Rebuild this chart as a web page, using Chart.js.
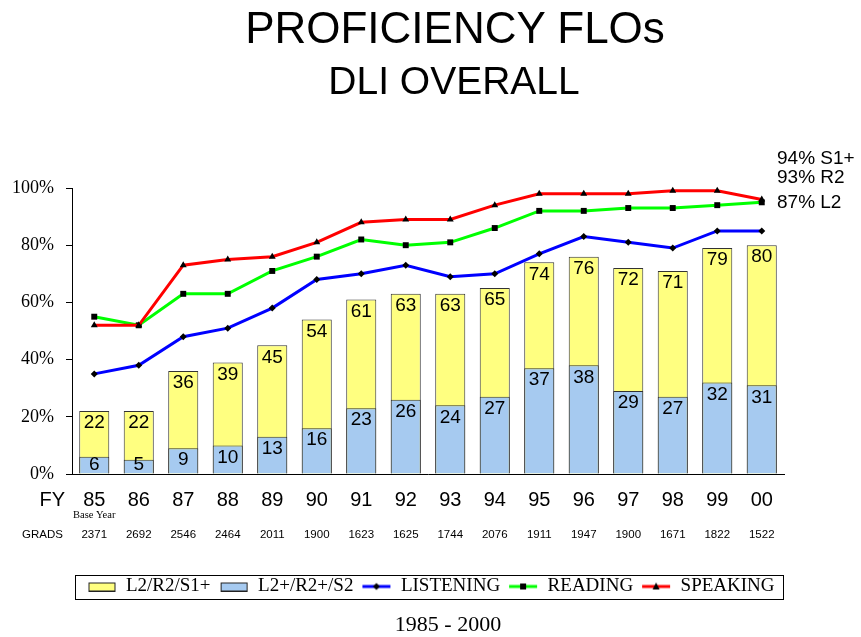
<!DOCTYPE html>
<html>
<head>
<meta charset="utf-8">
<title>Proficiency FLOs - DLI Overall</title>
<script src="https://cdn.jsdelivr.net/npm/chart.js@4.4.1/dist/chart.umd.min.js"></script>
<style>
  body { margin: 0; background: #fff; }
  #wrap { position: relative; width: 861px; height: 637px; }
  .txt { position: absolute; white-space: nowrap; line-height: 1; color: #000; font-family: Arial, "Liberation Sans", sans-serif; }
  .center { transform: translateX(-50%); }
</style>
</head>
<body>
<div id="wrap">
  <canvas id="floChart" width="861" height="637"></canvas>
  <div class="txt center" style="left:455px; top:6px; font-size:44px;">PROFICIENCY FLOs</div>
  <div class="txt center" style="left:454px; top:61px; font-size:39px;">DLI OVERALL</div>
  <div class="txt" style="left:777px; top:148px; font-size:19px;">94% S1+</div>
  <div class="txt" style="left:777px; top:167px; font-size:19px;">93% R2</div>
  <div class="txt" style="left:777px; top:192px; font-size:19px;">87% L2</div>
  <div class="txt center" style="left:448px; top:613px; font-size:22px; font-family: 'Times New Roman', 'Liberation Serif', serif;">1985 - 2000</div>
</div>
<script>
// fiscal years and graduates per year
const years = ["85", "86", "87", "88", "89", "90", "91", "92", "93", "94", "95", "96", "97", "98", "99", "00"];
const grads = [2371, 2692, 2546, 2464, 2011, 1900, 1623, 1625, 1744, 2076, 1911, 1947, 1900, 1671, 1822, 1522];

// % of grads reaching each level
const level1 = [22, 22, 36, 39, 45, 54, 61, 63, 63, 65, 74, 76, 72, 71, 79, 80]; // L2/R2/S1+
const level2 = [6, 5, 9, 10, 13, 16, 23, 26, 24, 27, 37, 38, 29, 27, 32, 31];     // L2+/R2+/S2

// % per skill
const listening = [35, 38, 48, 51, 58, 68, 70, 73, 69, 70, 77, 83, 81, 79, 85, 85];
const reading = [55, 52, 63, 63, 71, 76, 82, 80, 81, 86, 92, 92, 93, 93, 94, 95];
const speaking = [52, 52, 73, 75, 76, 81, 88, 89, 89, 94, 98, 98, 98, 99, 99, 96];

const yTicks = [0, 20, 40, 60, 80, 100];

const serif = "'Times New Roman', 'Liberation Serif', serif";
const sans = "Arial, 'Liberation Sans', sans-serif";

// little canvases used as legend symbols
function boxIcon(fill) {
  const c = document.createElement("canvas");
  c.width = 30; c.height = 10;
  const g = c.getContext("2d");
  g.fillStyle = fill;
  g.fillRect(2.5, 1.5, 26, 8);
  g.strokeStyle = "#222";
  g.lineWidth = 1;
  g.strokeRect(2.5, 1.5, 26, 8);
  return c;
}

function lineIcon(color, marker) {
  const c = document.createElement("canvas");
  c.width = 30; c.height = 10;
  const g = c.getContext("2d");
  g.strokeStyle = color;
  g.lineWidth = 3;
  g.beginPath(); g.moveTo(1, 5); g.lineTo(29, 5); g.stroke();
  g.fillStyle = "#000";
  g.beginPath();
  if (marker === "diamond") {
    g.moveTo(15, 1.5); g.lineTo(18.5, 5); g.lineTo(15, 8.5); g.lineTo(11.5, 5);
  } else if (marker === "square") {
    g.rect(12, 2, 6, 6);
  } else {
    g.moveTo(15, 1); g.lineTo(18.5, 8); g.lineTo(11.5, 8);
  }
  g.closePath(); g.fill();
  return c;
}

const legendIcons = [
  boxIcon("#FFFF80"),
  boxIcon("#A6CAF0"),
  lineIcon("#0000FF", "diamond"),
  lineIcon("#00FF00", "square"),
  lineIcon("#FF0000", "triangle"),
];

// numbers written inside the top of each bar
const barLabels = {
  id: "barLabels",
  afterDatasetsDraw(chart) {
    const ctx = chart.ctx;
    ctx.save();
    ctx.font = "19px " + sans;
    ctx.fillStyle = "#000";
    ctx.textAlign = "center";
    ctx.textBaseline = "middle";
    [0, 1].forEach((di) => {
      const meta = chart.getDatasetMeta(di);
      const vals = chart.data.datasets[di].data;
      meta.data.forEach((bar, i) => {
        const y = Math.min(bar.y + 12, bar.base - 9);
        ctx.fillText(String(vals[i]), bar.x, y);
      });
    });
    ctx.restore();
  },
};

// FY / Base Year / GRADS rows under the axis, and the frame round the legend
const extras = {
  id: "extras",
  afterDraw(chart) {
    const ctx = chart.ctx;
    const x = chart.scales.x;
    ctx.save();
    ctx.fillStyle = "#000";
    ctx.textBaseline = "middle";

    ctx.font = "20px " + sans;
    ctx.textAlign = "right";
    ctx.fillText("FY", 65, 500);

    ctx.font = "10.5px " + serif;
    ctx.textAlign = "center";
    ctx.fillText("Base Year", x.getPixelForValue(0), 515);

    ctx.font = "11.5px " + sans;
    ctx.textAlign = "left";
    ctx.fillText("GRADS", 22, 535);
    ctx.textAlign = "center";
    grads.forEach((g, i) => ctx.fillText(String(g), x.getPixelForValue(i), 535));

    const boxes = chart.legend.legendHitBoxes;
    if (boxes && boxes.length) {
      const first = boxes[0];
      const last = boxes[boxes.length - 1];
      const cy = first.top + first.height / 2;
      ctx.strokeStyle = "#000";
      ctx.lineWidth = 1;
      ctx.strokeRect(Math.round(first.left - 11) + 0.5, Math.round(cy - 12) + 0.5,
        Math.round(last.left + last.width + 9 - (first.left - 11)), 24);
    }
    ctx.restore();
  },
};

const ctx = document.getElementById("floChart");
// eslint-disable-next-line no-unused-vars
const myChart = new Chart(ctx, {
  type: "bar",
  data: {
    labels: years,
    datasets: [
      {
        label: "L2/R2/S1+",
        data: level1,
        backgroundColor: "#FFFF80",
        borderColor: "#333",
        borderWidth: 1,
        barPercentage: 0.675,
        categoryPercentage: 1,
        order: 5,
      },
      {
        label: "L2+/R2+/S2",
        data: level2,
        backgroundColor: "#A6CAF0",
        borderColor: "#333",
        borderWidth: 1,
        barPercentage: 0.675,
        categoryPercentage: 1,
        order: 4,
      },
      {
        type: "line",
        label: "LISTENING",
        data: listening,
        borderColor: "#0000FF",
        borderWidth: 3,
        pointStyle: "rectRot",
        pointRadius: 3.5,
        pointBackgroundColor: "#000",
        pointBorderColor: "#000",
        pointBorderWidth: 0,
        tension: 0,
        clip: false,
        order: 3,
      },
      {
        type: "line",
        label: "READING",
        data: reading,
        borderColor: "#00FF00",
        borderWidth: 3,
        pointStyle: "rect",
        pointRadius: 4.2,
        pointBackgroundColor: "#000",
        pointBorderColor: "#000",
        pointBorderWidth: 0,
        tension: 0,
        clip: false,
        order: 2,
      },
      {
        type: "line",
        label: "SPEAKING",
        data: speaking,
        borderColor: "#FF0000",
        borderWidth: 3,
        pointStyle: "triangle",
        pointRadius: 4,
        pointBackgroundColor: "#000",
        pointBorderColor: "#000",
        pointBorderWidth: 0,
        tension: 0,
        clip: false,
        order: 1,
      },
    ],
  },
  options: {
    responsive: false,
    animation: false,
    layout: { padding: { top: 188, right: 0, bottom: 31, left: 0 } },
    scales: {
      x: {
        stacked: true,
        grid: { display: false, drawTicks: false },
        border: { display: true, color: "#000", width: 1 },
        ticks: { color: "#000", font: { family: sans, size: 20 }, padding: 14, maxRotation: 0 },
        afterFit: (scale) => { scale.height = 95; },
      },
      y: {
        stacked: false,
        min: 0,
        max: 100,
        afterBuildTicks: (scale) => { scale.ticks = yTicks.map((v) => ({ value: v })); },
        grid: { display: true, drawOnChartArea: false, drawTicks: true, tickLength: 6, color: "#000" },
        border: { display: true, color: "#000", width: 1 },
        ticks: {
          color: "#000",
          padding: 12,
          font: { family: serif, size: 18 },
          callback: (v) => v + "%",
        },
        afterFit: (scale) => { scale.width = 72; },
      },
      // empty right-hand axis, only keeps room for the side notes
      yRight: {
        position: "right",
        min: 0,
        max: 100,
        grid: { display: false },
        border: { display: false },
        ticks: { display: false },
        afterFit: (scale) => { scale.width = 77; },
      },
    },
    plugins: {
      tooltip: { enabled: false },
      legend: {
        position: "bottom",
        labels: {
          usePointStyle: true,
          pointStyleWidth: 30,
          padding: 8,
          color: "#000",
          font: { family: serif, size: 19 },
          generateLabels: (chart) => chart.data.datasets.map((ds, i) => ({
            text: ds.label,
            pointStyle: legendIcons[i],
            datasetIndex: i,
            hidden: false,
            lineWidth: 0,
            fillStyle: "transparent",
            strokeStyle: "transparent",
            fontColor: "#000",
          })),
        },
      },
    },
  },
  plugins: [barLabels, extras],
});
</script>
</body>
</html>
